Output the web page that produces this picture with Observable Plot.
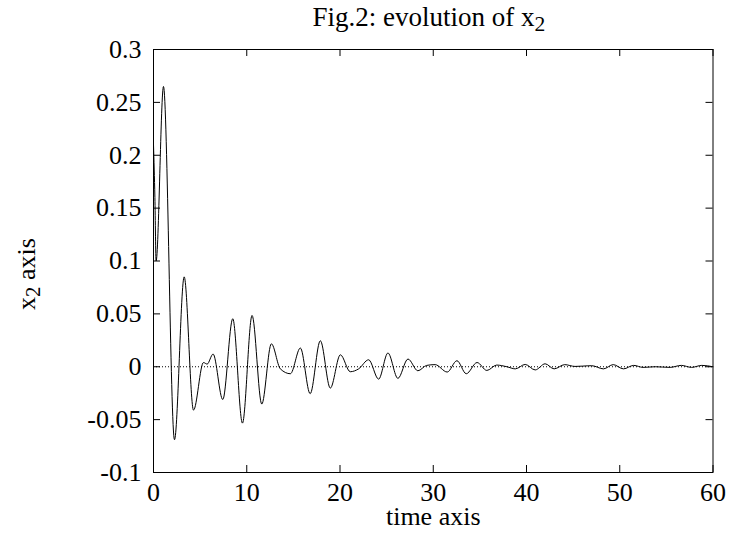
<!DOCTYPE html>
<html><head><meta charset="utf-8">
<script src="https://cdn.jsdelivr.net/npm/d3@7"></script>
<script src="https://cdn.jsdelivr.net/npm/@observablehq/plot@0.6"></script>
<style>html,body{margin:0;padding:0;background:#fff} svg{display:block}</style>
</head><body><div id="chart"></div>
<script>
// ---- data ----
const time = [0, 0.15, 0.28, 1.07, 2.25, 3.29, 4.29, 5.36, 5.75, 6.39, 7.43, 8.50, 9.54, 10.57, 11.61, 12.64, 13.6, 14.68, 15.75, 16.8, 17.89, 18.96, 20.04, 21.1, 22.0, 23.07, 24.14, 25.14, 26.21, 27.29, 28.35, 29.3, 30.2, 31.5, 32.54, 33.54, 34.7, 35.75, 36.8, 37.9, 38.8, 39.86, 40.93, 42.0, 42.96, 44.1, 45.2, 46.0, 47.0, 48.25, 49.3, 50.4, 51.5, 52.5, 53.8, 55.4, 56.6, 57.7, 58.8, 60];
const x2 = [0.21, 0.16, 0.1, 0.265, -0.069, 0.085, -0.041, 0.004, 0.0025, 0.012, -0.031, 0.0454, -0.0533, 0.0485, -0.0353, 0.0217, -0.002, -0.0066, 0.0177, -0.0255, 0.0246, -0.0202, 0.0113, -0.0047, -0.002, 0.0066, -0.0117, 0.013, -0.011, 0.0073, -0.0038, 0.0013, 0.002, -0.005, 0.0057, -0.0066, 0.004, -0.0035, 0.0016, 0, -0.002, 0.0022, -0.003, 0.0028, -0.002, 0.002, 0.0003, 0.0006, 0.001, -0.002, 0.002, -0.002, 0.0013, -0.0006, 0, -0.0006, 0.0013, -0.0006, 0.0013, 0];

const xTicks = [0, 10, 20, 30, 40, 50, 60];
const xTickLabels = ["0", "10", "20", "30", "40", "50", "60"];
const yTicks = [-0.1, -0.05, 0, 0.05, 0.1, 0.15, 0.2, 0.25, 0.3];
const yTickLabels = ["-0.1", "-0.05", "0", "0.05", "0.1", "0.15", "0.2", "0.25", "0.3"];

const titleMain = "Fig.2: evolution of x";
const titleSub = "2";
const xLabel = "time axis";
const yLabelMain = "x";
const yLabelSub = "2";
const yLabelRest = " axis";

// ---- layout ----
const data = time.map((t, i) => ({t, v: x2[i]}));
const W = 730, H = 543, mL = 153, mR = 17.5, mT = 49, mB = 71;
const innerW = W - mL - mR, innerH = H - mT - mB;
const tk = 7;
const font = "'Liberation Serif', 'Times New Roman', Times, serif";
const fs = 26;

const chart = Plot.plot({
  width: W, height: H,
  marginLeft: mL, marginRight: mR, marginTop: mT, marginBottom: mB,
  style: {fontFamily: font, fontSize: fs + "px", color: "#000", background: "#fff"},
  x: {domain: [0, 60]},
  y: {domain: [-0.1, 0.3]},
  marks: [
    Plot.ruleY([0], {stroke: "#000", strokeWidth: 1, strokeDasharray: "1,2"}),
    Plot.ruleX([0], {stroke: "#000", strokeWidth: 1, strokeDasharray: "1,2"}),
    Plot.line(data, {x: "t", y: "v", curve: "monotone-x", stroke: "#000", strokeWidth: 1}),
    Plot.ruleX(xTicks, {x: d => d, insetTop: innerH - tk, stroke: "#000"}),
    Plot.ruleX(xTicks, {x: d => d, insetBottom: innerH - tk, stroke: "#000"}),
    Plot.ruleY(yTicks, {y: d => d, insetRight: innerW - tk, stroke: "#000"}),
    Plot.ruleY(yTicks, {y: d => d, insetLeft: innerW - tk, stroke: "#000"}),
    Plot.frame({stroke: "#000", strokeWidth: 1}),
    Plot.axisX({ticks: xTicks, tickSize: 0, tickPadding: 10, label: null,
      tickFormat: d => xTickLabels[xTicks.indexOf(d)], fontSize: fs, fontFamily: font}),
    Plot.axisY({ticks: yTicks, tickSize: 0, tickPadding: 12, label: null,
      tickFormat: d => yTickLabels[yTicks.indexOf(d)], fontSize: fs, fontFamily: font}),
    Plot.text([xLabel], {text: d => d, frameAnchor: "bottom", dy: 52, fontSize: fs, fontFamily: font, fill: "#000"})
  ]
});

const svg = d3.select(chart);
const title = svg.append("text")
  .attr("x", 429).attr("y", 26)
  .attr("text-anchor", "middle")
  .attr("font-family", font).attr("font-size", 27).attr("fill", "#000");
title.append("tspan").text(titleMain);
title.append("tspan").attr("dy", 5).attr("font-size", 27 * 0.8).text(titleSub);

const ylab = svg.append("text")
  .attr("transform", "translate(35,274) rotate(-90)")
  .attr("text-anchor", "middle")
  .attr("font-family", font).attr("font-size", fs).attr("fill", "#000");
ylab.append("tspan").text(yLabelMain);
ylab.append("tspan").attr("dy", 5).attr("font-size", fs * 0.8).text(yLabelSub);
ylab.append("tspan").attr("dy", -5).text(yLabelRest);

document.getElementById("chart").appendChild(chart);
</script>
</body></html>
